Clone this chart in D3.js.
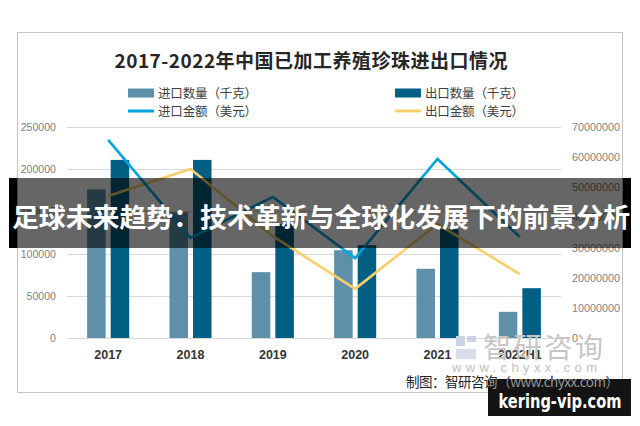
<!DOCTYPE html>
<html>
<head>
<meta charset="utf-8">
<script src="https://cdn.jsdelivr.net/npm/d3@7"></script>
<style>
  html, body { margin: 0; padding: 0; background: #ffffff; }
  svg { display: block; }
</style>
</head>
<body>
<svg id="chart" width="640" height="426"></svg>
<script>
// ---- data ----
const categories = ['2017', '2018', '2019', '2020', '2021', '2022H1'];
const importQty = [176000, 149000, 78000, 104000, 82000, 31000];
const exportQty = [211000, 211000, 135000, 110000, 129000, 59000];
const importAmt = [65700000, 33200000, 46800000, 26500000, 59400000, 33500000];
const exportAmt = [47100000, 56100000, 33800000, 16300000, 37800000, 21200000];
const leftTicks = [0, 50000, 100000, 150000, 200000, 250000];
const rightTicks = [0, 10000000, 20000000, 30000000, 40000000, 50000000, 60000000, 70000000];
const seriesNames = ['进口数量（千克）', '出口数量（千克）', '进口金额（美元）', '出口金额（美元）'];
const titleText = '2017-2022年中国已加工养殖珍珠进出口情况';
const bannerText = '足球未来趋势：技术革新与全球化发展下的前景分析';
const sourceText = '制图：智研咨询（www.chyxx.com）';

// ---- styles ----
const C = { imp: '#5e91a9', exp: '#005f83', impLine: '#00a5df', expLine: '#f8cf6c', grid: '#d9d9d9', axisText: '#7f7f7f' };
const cjk = '"Noto Sans CJK SC", "Noto Sans", sans-serif';

const svg = d3.select('#chart');
const plot = { left: 67, right: 561, top: 127, bottom: 338 };

const x0 = d3.scaleBand().domain(categories).range([plot.left, plot.right]).paddingInner(0.489).paddingOuter(0.2445);
const x1 = d3.scaleBand().domain(['imp', 'exp']).range([0, x0.bandwidth()]).paddingInner(0.213);
const yL = d3.scaleLinear().domain([0, 250000]).range([plot.bottom, plot.top]);
const yR = d3.scaleLinear().domain([0, 70000000]).range([plot.bottom, plot.top]);

// frame
svg.append('rect').attr('x', 17.5).attr('y', 32.5).attr('width', 605).attr('height', 360)
  .attr('fill', '#fff').attr('stroke', '#c4c4c4').attr('stroke-width', 1);

// title
svg.append('text').attr('x', 311).attr('y', 68).attr('text-anchor', 'middle')
  .attr('font-family', cjk).attr('font-weight', 700).attr('font-size', 19)
  .attr('fill', '#262626').attr('textLength', 393).attr('lengthAdjust', 'spacing')
  .text(titleText);

// legend
const legendItems = [
  { name: seriesNames[0], type: 'bar', color: C.imp, x: 128, y: 93 },
  { name: seriesNames[1], type: 'bar', color: C.exp, x: 395, y: 93 },
  { name: seriesNames[2], type: 'line', color: C.impLine, x: 128, y: 111 },
  { name: seriesNames[3], type: 'line', color: C.expLine, x: 395, y: 111 }
];
const lg = svg.append('g');
legendItems.forEach(d => {
  if (d.type === 'bar') {
    lg.append('rect').attr('x', d.x).attr('y', d.y - 4.5).attr('width', 26).attr('height', 9).attr('fill', d.color);
  } else {
    lg.append('line').attr('x1', d.x).attr('x2', d.x + 26).attr('y1', d.y).attr('y2', d.y)
      .attr('stroke', d.color).attr('stroke-width', 3);
  }
  lg.append('text').attr('x', d.x + 30).attr('y', d.y + 4.5).attr('font-family', cjk)
    .attr('font-size', 12.5).attr('fill', '#404040').attr('textLength', 99).attr('lengthAdjust', 'spacing').text(d.name);
});

// grid
svg.append('g').selectAll('line').data(leftTicks).join('line')
  .attr('x1', plot.left).attr('x2', plot.right)
  .attr('y1', d => Math.round(yL(d)) + 0.5).attr('y2', d => Math.round(yL(d)) + 0.5)
  .attr('stroke', C.grid).attr('stroke-width', 1);

// left axis
const axL = svg.append('g').attr('transform', `translate(${plot.left},0)`)
  .call(d3.axisLeft(yL).tickValues(leftTicks).tickSize(0).tickPadding(11).tickFormat(d3.format('d')));
axL.select('.domain').remove();
axL.selectAll('text').attr('font-family', '"Liberation Sans", Arial, sans-serif').attr('font-size', 10.6).attr('fill', C.axisText);

// right axis
const axR = svg.append('g').attr('transform', `translate(${plot.right},0)`)
  .call(d3.axisRight(yR).tickValues(rightTicks).tickSize(0).tickPadding(11).tickFormat(d3.format('d')));
axR.select('.domain').remove();
axR.selectAll('text').attr('font-family', '"Liberation Sans", Arial, sans-serif').attr('font-size', 10.8).attr('fill', C.axisText);

// bottom axis
const axB = svg.append('g').attr('transform', `translate(0,${plot.bottom})`)
  .call(d3.axisBottom(x0).tickSize(0).tickPadding(12));
axB.select('.domain').remove();
axB.selectAll('text').attr('font-family', '"Liberation Sans", Arial, sans-serif').attr('font-weight', 700)
  .attr('font-size', 12.5).attr('fill', '#333');

// bars
const barData = categories.map((c, i) => ({ c, imp: importQty[i], exp: exportQty[i] }));
const bars = svg.append('g');
bars.selectAll('g').data(barData).join('g')
  .attr('transform', d => `translate(${x0(d.c)},0)`)
  .selectAll('rect').data(d => [{ k: 'imp', v: d.imp }, { k: 'exp', v: d.exp }]).join('rect')
  .attr('x', d => x1(d.k)).attr('width', x1.bandwidth())
  .attr('y', d => yL(d.v)).attr('height', d => yL(0) - yL(d.v))
  .attr('fill', d => C[d.k]);

// lines
const cx = c => x0(c) + x0.bandwidth() / 2;
const lineGen = d3.line().x(d => cx(d.c)).y(d => yR(d.v));
const impLineData = categories.map((c, i) => ({ c, v: importAmt[i] }));
const expLineData = categories.map((c, i) => ({ c, v: exportAmt[i] }));
svg.append('path').datum(expLineData).attr('d', lineGen).attr('fill', 'none')
  .attr('stroke', C.expLine).attr('stroke-width', 2.6).attr('stroke-linejoin', 'miter');
svg.append('path').datum(impLineData).attr('d', lineGen).attr('fill', 'none')
  .attr('stroke', C.impLine).attr('stroke-width', 2.6).attr('stroke-linejoin', 'miter');

// watermark (智研咨询)
const wm = svg.append('g');
wm.append('rect').attr('x', 456).attr('y', 336).attr('width', 9).attr('height', 10).attr('fill', '#c9d3e2');
wm.append('rect').attr('x', 467).attr('y', 336).attr('width', 9).attr('height', 6).attr('fill', '#c9d3e2');
wm.append('rect').attr('x', 456).attr('y', 349).attr('width', 20).attr('height', 10).attr('fill', '#d5deea');
wm.append('text').attr('x', 483).attr('y', 358).attr('font-family', cjk).attr('font-size', 28)
  .attr('fill', '#c6c6c6').attr('textLength', 120).attr('lengthAdjust', 'spacing').text('智研咨询');
wm.append('text').attr('x', 452).attr('y', 372).attr('font-family', '"Liberation Sans", Arial, sans-serif').attr('font-size', 13)
  .attr('fill', '#c0c0c0').attr('textLength', 145).attr('lengthAdjust', 'spacing').text('www.chyxx.com');

// source
svg.append('text').attr('x', 406).attr('y', 387).attr('font-family', cjk).attr('font-size', 13.5)
  .attr('fill', '#222').attr('textLength', 213).attr('lengthAdjust', 'spacing').text(sourceText);

// banner
svg.append('rect').attr('x', 9).attr('y', 178).attr('width', 8.5).attr('height', 70).attr('fill', '#000');
svg.append('rect').attr('x', 622.5).attr('y', 178).attr('width', 8.5).attr('height', 70).attr('fill', '#000');
svg.append('rect').attr('x', 17.5).attr('y', 178).attr('width', 605).attr('height', 70).attr('fill', 'rgba(0,0,0,0.6)');
svg.append('text').attr('x', 321).attr('y', 227).attr('text-anchor', 'middle')
  .attr('font-family', cjk).attr('font-weight', 700).attr('font-size', 26.5).attr('fill', '#fff')
  .attr('textLength', 618).attr('lengthAdjust', 'spacingAndGlyphs').text(bannerText);

// site badge
svg.append('rect').attr('x', 488).attr('y', 379).attr('width', 143).attr('height', 37).attr('fill', 'rgba(0,0,0,0.92)');
svg.append('defs').append('clipPath').attr('id', 'badgeClip')
  .append('rect').attr('x', 488).attr('y', 379).attr('width', 143).attr('height', 37);
svg.append('text').attr('x', 406).attr('y', 387).attr('font-family', cjk).attr('font-size', 13.5)
  .attr('fill', '#9a9a9a').attr('clip-path', 'url(#badgeClip)')
  .attr('textLength', 213).attr('lengthAdjust', 'spacing').text(sourceText);
svg.append('text').attr('x', 560).attr('y', 408).attr('text-anchor', 'middle')
  .attr('font-family', '"DejaVu Sans", sans-serif').attr('font-weight', 700).attr('font-size', 19)
  .attr('fill', '#fff').attr('textLength', 123).attr('lengthAdjust', 'spacingAndGlyphs').text('kering-vip.com');
</script>
</body>
</html>
